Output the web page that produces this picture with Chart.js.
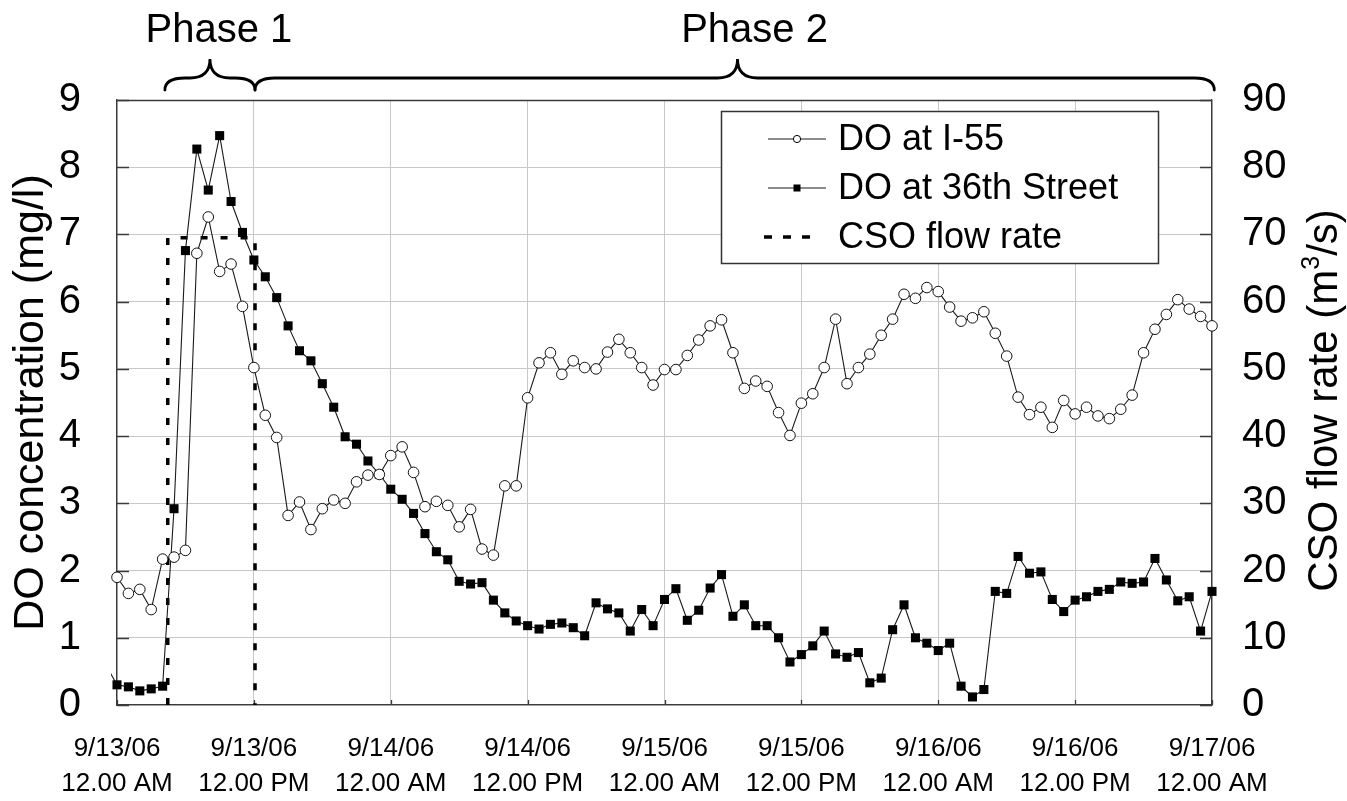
<!DOCTYPE html>
<html>
<head>
<meta charset="utf-8">
<script src="https://cdn.jsdelivr.net/npm/chart.js@4.4.1/dist/chart.umd.min.js"></script>
<style>
  html, body { margin: 0; padding: 0; background: #ffffff; }
  #wrap { width: 1347px; height: 801px; }
</style>
</head>
<body>
<div id="wrap"><canvas id="c" width="1347" height="801"></canvas></div>
<script>
// Hours since 9/13/06 12:00 AM (hourly readings)
const hours = [-1,
  0, 1, 2, 3, 4, 5, 6, 7, 8, 9,
  10, 11, 12, 13, 14, 15, 16, 17, 18, 19,
  20, 21, 22, 23, 24, 25, 26, 27, 28, 29,
  30, 31, 32, 33, 34, 35, 36, 37, 38, 39,
  40, 41, 42, 43, 44, 45, 46, 47, 48, 49,
  50, 51, 52, 53, 54, 55, 56, 57, 58, 59,
  60, 61, 62, 63, 64, 65, 66, 67, 68, 69,
  70, 71, 72, 73, 74, 75, 76, 77, 78, 79,
  80, 81, 82, 83, 84, 85, 86, 87, 88, 89,
  90, 91, 92, 93, 94, 95, 96, 97];

// Dissolved oxygen at I-55 (mg/l)
const doI55 = [null,
  1.90, 1.66, 1.72, 1.42, 2.17, 2.20, 2.30, 6.72, 7.26, 6.45,
  6.56, 5.93, 5.02, 4.31, 3.98, 2.82, 3.02, 2.61, 2.92, 3.05,
  3.00, 3.32, 3.42, 3.43, 3.71, 3.84, 3.46, 2.95, 3.03, 2.97,
  2.65, 2.91, 2.32, 2.23, 3.26, 3.26, 4.57, 5.09, 5.24, 4.92,
  5.12, 5.02, 5.00, 5.25, 5.44, 5.24, 5.02, 4.76, 4.99, 4.99,
  5.20, 5.43, 5.64, 5.73, 5.24, 4.71, 4.82, 4.74, 4.35, 4.01,
  4.49, 4.63, 5.02, 5.74, 4.78, 5.02, 5.22, 5.50, 5.74, 6.11,
  6.05, 6.21, 6.15, 5.92, 5.71, 5.76, 5.85, 5.53, 5.19, 4.58,
  4.32, 4.43, 4.13, 4.53, 4.33, 4.43, 4.30, 4.26, 4.40, 4.61,
  5.24, 5.59, 5.81, 6.03, 5.89, 5.78, 5.64, 5.41];

// Dissolved oxygen at 36th Street (mg/l)
const do36th = [0.60,
  0.30, 0.27, 0.21, 0.24, 0.28, 2.92, 6.76, 8.27, 7.66, 8.47,
  7.49, 7.03, 6.62, 6.37, 6.06, 5.64, 5.27, 5.12, 4.78, 4.43,
  3.99, 3.88, 3.63, 3.43, 3.21, 3.06, 2.85, 2.55, 2.28, 2.16,
  1.84, 1.80, 1.82, 1.56, 1.37, 1.25, 1.18, 1.13, 1.20, 1.22,
  1.15, 1.03, 1.52, 1.43, 1.37, 1.10, 1.42, 1.18, 1.57, 1.73,
  1.26, 1.41, 1.74, 1.94, 1.32, 1.49, 1.18, 1.18, 1.00, 0.64,
  0.75, 0.88, 1.10, 0.76, 0.71, 0.78, 0.33, 0.40, 1.12, 1.49,
  1.00, 0.92, 0.81, 0.92, 0.28, 0.12, 0.23, 1.69, 1.66, 2.21,
  1.96, 1.98, 1.57, 1.39, 1.56, 1.61, 1.69, 1.72, 1.83, 1.81,
  1.83, 2.18, 1.86, 1.55, 1.61, 1.10, 1.69, 1.97];

// CSO flow rate (m3/s) during the overflow event
const csoHours = [4.45, 4.45, 12.1, 12.1];
const csoFlow = [0, 69.5, 69.5, 0];

// X-axis tick labels, one pair every 12 hours
const tickHours = [0, 12, 24, 36, 48, 60, 72, 84, 96];
const tickDates = ['9/13/06', '9/13/06', '9/14/06', '9/14/06', '9/15/06', '9/15/06', '9/16/06', '9/16/06', '9/17/06'];
const tickTimes = ['12.00 AM', '12.00 PM', '12.00 AM', '12.00 PM', '12.00 AM', '12.00 PM', '12.00 AM', '12.00 PM', '12.00 AM'];

// Phase annotations above the plot (start hour, end hour)
const phases = [
  { label: 'Phase 1', from: 4.2, to: 12.1 },
  { label: 'Phase 2', from: 12.1, to: 96.2 }
];

const FONT = '"Liberation Sans", Arial, Helvetica, sans-serif';
const X_MIN = 0, X_MAX = 96;

function inRange(ctx) {
  const r = ctx.raw;
  return r && r.x >= X_MIN && r.x <= X_MAX;
}

const pts = (xs, ys) => xs.map((x, i) => ({ x: x, y: ys[i] }));

const decorations = {
  id: 'decorations',
  beforeDatasetsDraw(chart) {
    const { ctx, chartArea: a, scales } = chart;
    ctx.save();
    ctx.strokeStyle = '#3a3a3a';
    ctx.lineWidth = 1.3;
    // top edge of the frame
    ctx.beginPath();
    ctx.moveTo(a.left, a.top + 0.5);
    ctx.lineTo(a.right, a.top + 0.5);
    ctx.stroke();
    // inward tick marks on both value axes
    ctx.beginPath();
    scales.y.ticks.forEach(t => {
      const y = Math.round(scales.y.getPixelForValue(t.value)) + 0.5;
      ctx.moveTo(a.left, y); ctx.lineTo(a.left + 12, y);
      ctx.moveTo(a.right - 12, y); ctx.lineTo(a.right, y);
    });
    scales.x.ticks.forEach(t => {
      const x = Math.round(scales.x.getPixelForValue(t.value)) + 0.5;
      ctx.moveTo(x, a.bottom); ctx.lineTo(x, a.bottom - 5);
    });
    ctx.stroke();
    ctx.restore();
  },
  afterDraw(chart) {
    const { ctx, chartArea: a, scales } = chart;
    ctx.save();

    // Right axis title, reading bottom to top, with a superscript 3
    const cy = (a.top + a.bottom) / 2 - 2;
    ctx.translate(1325, cy);
    ctx.rotate(-Math.PI / 2);
    ctx.fillStyle = '#000';
    ctx.textBaseline = 'middle';
    const big = '42px ' + FONT, small = '25px ' + FONT;
    const p1 = 'CSO flow rate (m', sup = '3', p2 = '/s)';
    ctx.font = big; const w1 = ctx.measureText(p1).width, w3 = ctx.measureText(p2).width;
    ctx.font = small; const w2 = ctx.measureText(sup).width;
    let x0 = -(w1 + w2 + w3) / 2;
    ctx.font = big; ctx.textAlign = 'left';
    ctx.fillText(p1, x0, 0);
    ctx.font = small; ctx.fillText(sup, x0 + w1, -13);
    ctx.font = big; ctx.fillText(p2, x0 + w1 + w2, 0);
    ctx.setTransform(1, 0, 0, 1, 0, 0);

    // Phase braces and labels
    const yEnd = 90, yMid = 78, yTip = 59, r = 20;
    ctx.strokeStyle = '#000';
    ctx.lineWidth = 2.8;
    ctx.lineCap = 'round';
    ctx.fillStyle = '#000';
    ctx.font = '40px ' + FONT;
    ctx.textAlign = 'center';
    ctx.textBaseline = 'alphabetic';
    phases.forEach((p, i) => {
      const x1 = scales.x.getPixelForValue(p.from);
      const x2 = scales.x.getPixelForValue(p.to);
      const xm = i === 0 ? (x1 + x2) / 2 : x1 + (x2 - x1) * 0.503;
      const rr = Math.min(r, (xm - x1) / 2, (x2 - xm) / 2);
      ctx.beginPath();
      ctx.moveTo(x1, yEnd);
      ctx.quadraticCurveTo(x1, yMid, x1 + rr, yMid);
      ctx.lineTo(xm - rr, yMid);
      ctx.quadraticCurveTo(xm, yMid, xm, yTip);
      ctx.quadraticCurveTo(xm, yMid, xm + rr, yMid);
      ctx.lineTo(x2 - rr, yMid);
      ctx.quadraticCurveTo(x2, yMid, x2, yEnd);
      ctx.stroke();
      ctx.fillText(p.label, xm + 9 + (i === 0 ? 0 : 8), 42);
    });

    // Legend box inside the plot area
    const lx = a.left + 604, ly = a.top + 11, lw = 437, lh = 152;
    ctx.fillStyle = '#fff';
    ctx.fillRect(lx, ly, lw, lh);
    ctx.strokeStyle = '#333';
    ctx.lineWidth = 1.5;
    ctx.lineCap = 'butt';
    ctx.strokeRect(lx + 0.5, ly + 0.5, lw, lh);
    const rows = [ly + 28, ly + 77, ly + 126];
    ctx.font = '36px ' + FONT;
    ctx.textAlign = 'left';
    ctx.textBaseline = 'middle';
    chart.data.datasets.forEach((ds, i) => {
      const y = rows[i];
      const sx1 = lx + 47, sx2 = lx + 105, sm = (sx1 + sx2) / 2;
      ctx.save();
      ctx.strokeStyle = ds.borderColor;
      ctx.lineWidth = ds.borderDash ? 3.5 : ds.borderWidth;
      if (ds.borderDash) {
        ctx.setLineDash([8, 11]);
        ctx.beginPath(); ctx.moveTo(sx1 - 4, y); ctx.lineTo(sx2 - 8, y); ctx.stroke();
      } else {
        ctx.beginPath(); ctx.moveTo(sx1, y); ctx.lineTo(sx2, y); ctx.stroke();
      }
      ctx.restore();
      if (ds.pointStyle === 'circle') {
        ctx.beginPath(); ctx.arc(sm, y, 3.6, 0, Math.PI * 2);
        ctx.fillStyle = '#fff'; ctx.fill();
        ctx.strokeStyle = '#000'; ctx.lineWidth = 1; ctx.stroke();
      } else if (ds.pointStyle === 'rect') {
        ctx.fillStyle = '#000';
        ctx.fillRect(sm - 3.5, y - 3.5, 7, 7);
      }
      ctx.fillStyle = '#000';
      ctx.fillText(ds.label, lx + 117, y + 1);
    });
    ctx.restore();
  }
};

const chart = new Chart(document.getElementById('c'), {
  type: 'line',
  data: {
    datasets: [
      {
        label: 'DO at I-55',
        data: pts(hours, doI55),
        yAxisID: 'y',
        borderColor: '#1a1a1a',
        borderWidth: 1.1,
        pointStyle: 'circle',
        pointRadius: ctx => inRange(ctx) ? 5.3 : 0,
        pointBackgroundColor: '#ffffff',
        pointBorderColor: '#111111',
        pointBorderWidth: 1,
        tension: 0,
        spanGaps: false,
        clip: { left: 6, right: 6, top: 12, bottom: 12 }
      },
      {
        label: 'DO at 36th Street',
        data: pts(hours, do36th),
        yAxisID: 'y',
        borderColor: '#1a1a1a',
        borderWidth: 1.1,
        pointStyle: 'rect',
        pointRadius: ctx => inRange(ctx) ? 6.4 : 0,
        pointBackgroundColor: '#000000',
        pointBorderColor: '#000000',
        pointBorderWidth: 0,
        tension: 0,
        clip: { left: 6, right: 6, top: 12, bottom: 12 }
      },
      {
        label: 'CSO flow rate',
        data: pts(csoHours, csoFlow),
        yAxisID: 'y2',
        borderColor: '#000000',
        borderWidth: 3.5,
        borderDash: [7, 13],
        pointRadius: 0,
        tension: 0,
        clip: false
      }
    ]
  },
  options: {
    responsive: false,
    animation: false,
    events: [],
    layout: { padding: { top: 100, left: 0, right: 0, bottom: 0 } },
    plugins: {
      legend: { display: false },
      tooltip: { enabled: false },
      title: { display: false }
    },
    scales: {
      x: {
        type: 'linear',
        min: X_MIN,
        max: X_MAX,
        afterBuildTicks: s => { s.ticks = tickHours.map(v => ({ value: v })); },
        afterFit: s => { s.height = 96; },
        ticks: {
          autoSkip: false,
          maxRotation: 0,
          padding: 26,
          color: '#000',
          font: { family: FONT, size: 26, lineHeight: 1.35 },
          callback: v => {
            const i = tickHours.indexOf(v);
            return i >= 0 ? [tickDates[i], tickTimes[i]] : '';
          }
        },
        grid: { color: '#c8c8c8', lineWidth: 1, drawTicks: false },
        border: { display: true, color: '#3a3a3a', width: 1.3 }
      },
      y: {
        position: 'left',
        min: 0,
        max: 9,
        afterFit: s => { s.width = 117; },
        ticks: {
          stepSize: 1,
          padding: 36,
          color: '#000',
          font: { family: FONT, size: 40 }
        },
        title: {
          display: true,
          text: 'DO concentration (mg/l)',
          color: '#000',
          font: { family: FONT, size: 43, lineHeight: 1.1 },
          padding: { top: 7, bottom: 0 }
        },
        grid: { color: '#c8c8c8', lineWidth: 1, drawTicks: false },
        border: { display: true, color: '#3a3a3a', width: 1.3 }
      },
      y2: {
        position: 'right',
        min: 0,
        max: 90,
        afterFit: s => { s.width = 135; },
        ticks: {
          stepSize: 10,
          padding: 30,
          color: '#000',
          font: { family: FONT, size: 40 }
        },
        grid: { drawOnChartArea: false, drawTicks: false },
        border: { display: true, color: '#3a3a3a', width: 1.3 }
      }
    }
  },
  plugins: [decorations]
});
</script>
</body>
</html>
